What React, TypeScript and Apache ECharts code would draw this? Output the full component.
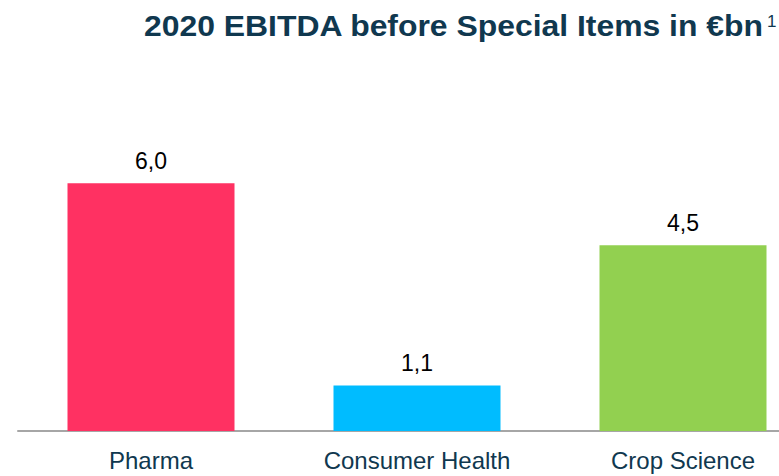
import React, { useEffect, useRef } from "react";
import * as echarts from "echarts";

const categories = ["Pharma", "Consumer Health", "Crop Science"];
const values = [6.0, 1.1, 4.5];
const barColors = ["#FF3162", "#00BCFF", "#92D050"];
const titleText = "2020 EBITDA before Special Items in €bn";
const footnote = "1";

const FONT = "'Liberation Sans', Arial, sans-serif";

export default function App() {
  const ref = useRef<HTMLDivElement>(null);
  useEffect(() => {
    if (!ref.current) return;
    const chart = echarts.init(ref.current, undefined, { renderer: "svg" });
    chart.setOption({
      animation: false,
      backgroundColor: "#FFFFFF",
      graphic: [
        {
          type: "text",
          x: 763,
          y: 26,
          scaleX: 1.1,
          style: {
            text: titleText,
            fill: "#10384F",
            font: "bold 29px " + FONT,
            align: "right",
            verticalAlign: "middle",
          },
        },
        {
          type: "text",
          x: 767,
          y: 21,
          style: {
            text: footnote,
            fill: "#10384F",
            font: "17px " + FONT,
            align: "left",
            verticalAlign: "middle",
          },
        },
      ],
      grid: { left: 18, top: 100.6, right: 0, height: 330.4, containLabel: false },
      xAxis: {
        type: "category",
        data: categories,
        axisTick: { show: false },
        axisLine: { show: true, lineStyle: { color: "#A6A6A6", width: 2 } },
        axisLabel: {
          color: "#10384F",
          fontSize: 24,
          fontFamily: FONT,
          margin: 17,
          interval: 0,
        },
      },
      yAxis: {
        type: "value",
        min: 0,
        max: 8,
        show: false,
        splitLine: { show: false },
      },
      series: [
        {
          type: "bar",
          barWidth: 167,
          data: values.map((v, i) => ({ value: v, itemStyle: { color: barColors[i] } })),
          label: {
            show: true,
            position: "top",
            distance: 11,
            color: "#000000",
            fontSize: 23,
            fontFamily: FONT,
            formatter: (p: any) => Number(p.value).toFixed(1).replace(".", ","),
          },
        },
      ],
    });
    return () => chart.dispose();
  }, []);
  return (
    <div style={{ position: "fixed", left: 0, top: 0, width: 779, height: 476, overflow: "hidden" }}>
      <div ref={ref} style={{ position: "absolute", left: 0, top: 0, width: 816, height: 476 }} />
    </div>
  );
}
